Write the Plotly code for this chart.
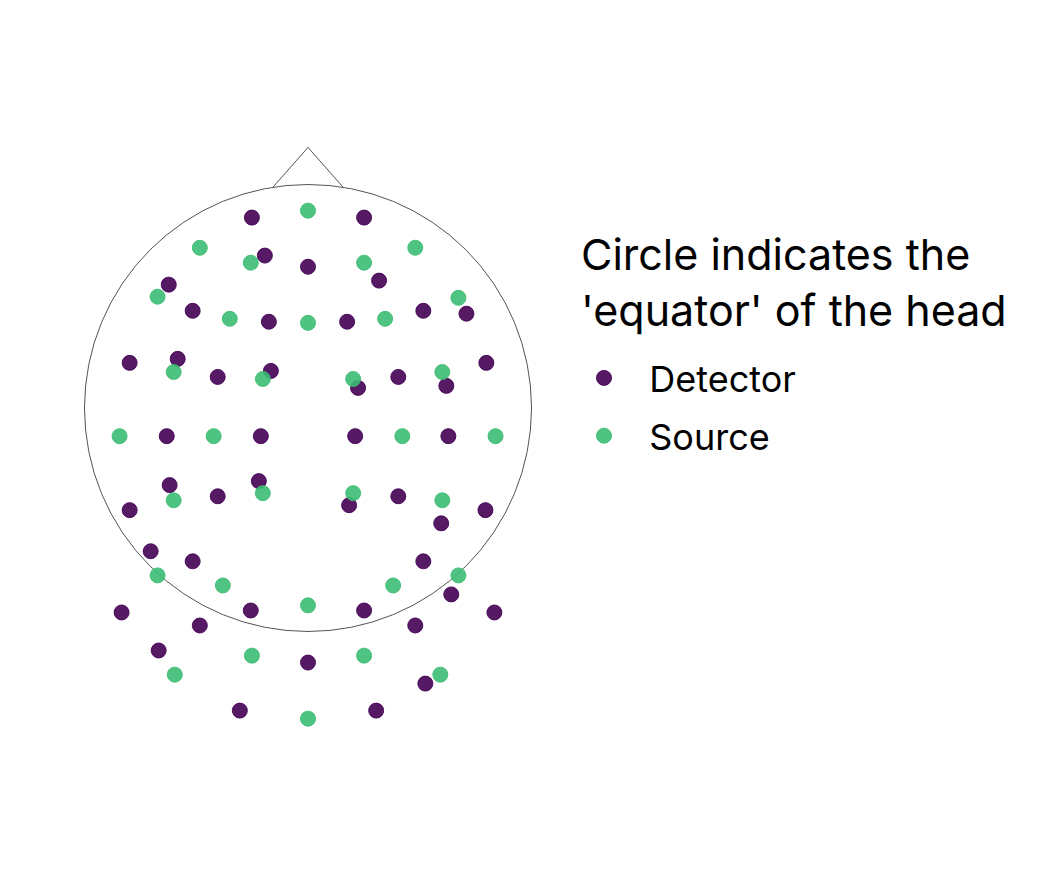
import plotly.graph_objects as go

# Optode positions (normalised so the head 'equator' circle has radius 1)
detector_x = [-0.251, 0.251, -0.193, 0.0, 0.318, -0.623, -0.516, -0.175, 0.175, 0.516,
              0.709, -0.798, -0.583, -0.404, -0.166, 0.224, 0.404, 0.619, 0.798, -0.632,
              -0.211, 0.211, 0.628, -0.619, -0.798, -0.404, -0.220, 0.184, 0.404, 0.794,
              0.596, -0.704, -0.516, 0.516, 0.641, -0.834, -0.256, 0.251, 0.834, -0.484,
              0.480, -0.668, 0.0, 0.525, -0.305, 0.305]
detector_y = [0.852, 0.852, 0.682, 0.632, 0.570, 0.552, 0.435, 0.386, 0.386, 0.435,
              0.422, 0.202, 0.220, 0.139, 0.166, 0.090, 0.139, 0.099, 0.202, -0.126,
              -0.126, -0.126, -0.126, -0.345, -0.457, -0.395, -0.327, -0.435, -0.395, -0.457,
              -0.516, -0.641, -0.686, -0.686, -0.834, -0.915, -0.906, -0.906, -0.915, -0.973,
              -0.973, -1.085, -1.139, -1.233, -1.354, -1.354]

source_x = [0.0, -0.484, 0.480, -0.256, 0.251, -0.673, 0.673, -0.350, 0.0, 0.345,
            -0.601, -0.202, 0.202, 0.601, -0.843, -0.422, 0.422, 0.839, -0.601, -0.202,
            0.202, 0.601, -0.673, -0.381, 0.381, 0.673, 0.0, -0.251, 0.251, -0.596,
            0.592, 0.0]
source_y = [0.883, 0.717, 0.717, 0.650, 0.650, 0.498, 0.493, 0.399, 0.381, 0.399,
            0.161, 0.130, 0.130, 0.161, -0.126, -0.126, -0.126, -0.126, -0.413, -0.381,
            -0.381, -0.413, -0.749, -0.794, -0.794, -0.749, -0.883, -1.108, -1.108, -1.193,
            -1.193, -1.390]

series_names = ["Detector", "Source"]
legend_title = "Circle indicates the<br>'equator' of the head"

head_radius = 1.0
nose_x = [-0.157, 0.0, 0.157]
nose_y = [0.988, 1.166, 0.988]

W, H = 1062, 885
cx, cy, scale = 300, 400, 223.5  # pixel centre of head (page has 8px body offset)
px_left, px_right, px_top, px_bottom = 30, 560, 90, 780

FONT = "Inter, Liberation Sans, Arial, sans-serif"
purple = "rgba(68,1,84,0.9)"
green = "rgba(60,188,115,0.9)"
PAD = "\u00a0\u00a0"

fig = go.Figure()

fig.add_trace(go.Scatter(
    x=nose_x, y=nose_y, mode="lines",
    line=dict(color="#555555", width=1), showlegend=False, hoverinfo="skip"))

fig.add_shape(type="circle", xref="x", yref="y",
              x0=-head_radius, y0=-head_radius, x1=head_radius, y1=head_radius,
              line=dict(color="#555555", width=1), layer="below")

fig.add_trace(go.Scatter(
    x=detector_x, y=detector_y, mode="markers", name=PAD + series_names[0],
    legendgroup="d",
    marker=dict(size=15, color=purple, line=dict(color=purple, width=1))))
fig.add_trace(go.Scatter(
    x=source_x, y=source_y, mode="markers", name=PAD + series_names[1],
    legendgroup="s",
    marker=dict(size=15, color=green, line=dict(color=green, width=1))))

fig.add_annotation(
    text=legend_title, xref="paper", yref="paper",
    x=571 / W, y=1 - 218 / H, xanchor="left", yanchor="top",
    align="left", showarrow=False, font=dict(size=43, family=FONT, color="black"))

fig.update_layout(
    width=W, height=H,
    margin=dict(l=0, r=0, t=0, b=0),
    paper_bgcolor="white", plot_bgcolor="white",
    font=dict(family=FONT, color="black"),
    xaxis=dict(domain=[px_left / W, px_right / W],
               range=[(px_left - cx) / scale, (px_right - cx) / scale],
               visible=False, showgrid=False, zeroline=False),
    yaxis=dict(domain=[1 - px_bottom / H, 1 - px_top / H],
               range=[(cy - px_bottom) / scale, (cy - px_top) / scale],
               visible=False, showgrid=False, zeroline=False),
    legend=dict(
        font=dict(size=36, family=FONT),
        x=571 / W, xanchor="left", y=1 - 340 / H, yanchor="top",
        tracegroupgap=8, itemwidth=40, bgcolor="rgba(0,0,0,0)"),
)

fig.write_html("out.html")
